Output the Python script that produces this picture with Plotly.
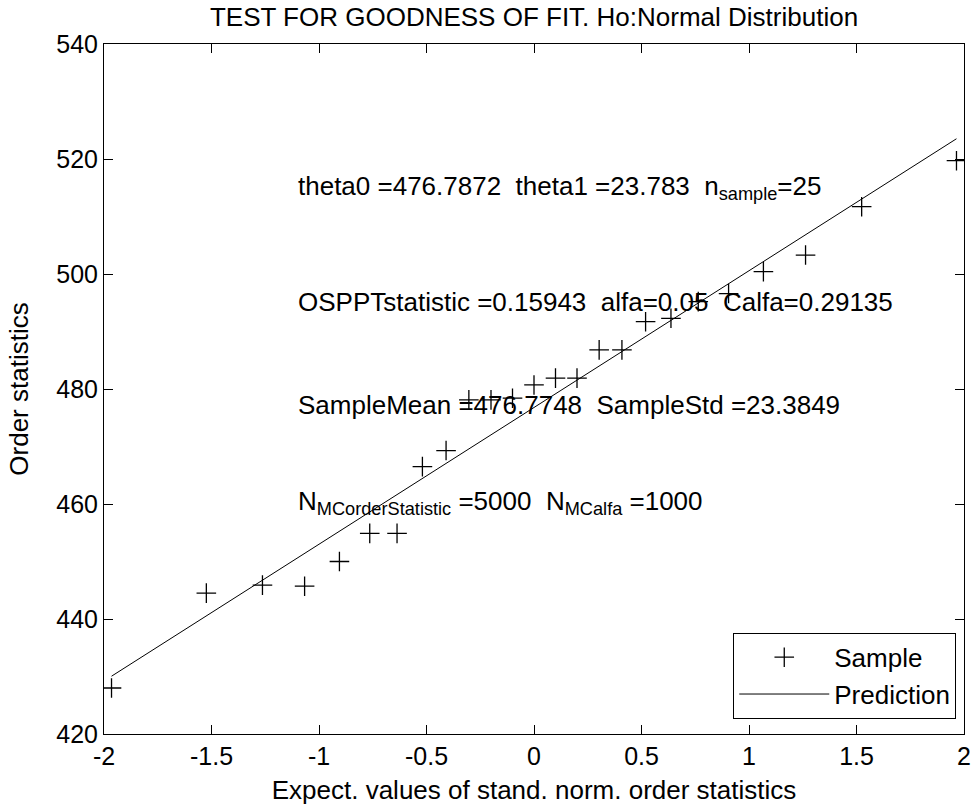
import plotly.graph_objects as go

# Expected values of standard normal order statistics (n = 25)
x_expected = [-1.965, -1.524, -1.263, -1.067, -0.905, -0.764, -0.637, -0.519, -0.409,
              -0.303, -0.200, -0.100, 0.000, 0.100, 0.200, 0.303, 0.409, 0.519,
              0.637, 0.764, 0.905, 1.067, 1.263, 1.524, 1.965]
# Order statistics (sample, sorted)
y_sample = [428.0, 444.5, 445.9, 445.7, 450.0, 454.9, 454.9, 466.5, 469.3,
            478.1, 478.1, 478.4, 480.7, 481.9, 481.9, 486.8, 486.8, 491.7,
            492.3, 495.2, 496.6, 500.4, 503.3, 511.7, 519.7]
# Prediction line endpoints (theta0 + theta1 * x)
x_pred = [-1.965, 1.965]
y_pred = [430.05, 523.52]

x_ticks = [-2, -1.5, -1, -0.5, 0, 0.5, 1, 1.5, 2]
x_ticklabels = ["-2", "-1.5", "-1", "-0.5", "0", "0.5", "1", "1.5", "2"]
y_ticks = [420, 440, 460, 480, 500, 520, 540]
y_ticklabels = ["420", "440", "460", "480", "500", "520", "540"]

text_lines = [
    "theta0 =476.7872&nbsp;&nbsp;theta1 =23.783&nbsp;&nbsp;n<sub>sample</sub>=25",
    "OSPPTstatistic =0.15943&nbsp;&nbsp;alfa=0.05&nbsp;&nbsp;Calfa=0.29135",
    "SampleMean =476.7748&nbsp;&nbsp;SampleStd =23.3849",
    "N<sub>MCorderStatistic</sub> =5000&nbsp;&nbsp;N<sub>MCalfa</sub> =1000",
]
text_y = [515.0, 495.1, 477.2, 460.3]
text_x = -1.107

FONT = "Liberation Sans, Arial, Helvetica, sans-serif"
FS = 26
FT = 25

fig = go.Figure()
fig.add_trace(go.Scatter(
    x=x_expected, y=y_sample, mode="markers", name="Sample",
    marker=dict(symbol="cross-thin-open", size=14, color="black",
                line=dict(color="black", width=1.3)),
))
fig.add_trace(go.Scatter(
    x=x_pred, y=y_pred, mode="lines", name="Prediction",
    line=dict(color="black", width=1),
))

for t, yy in zip(text_lines, text_y):
    fig.add_annotation(x=text_x, y=yy, xref="x", yref="y", text=t, showarrow=False,
                       xanchor="left", yanchor="middle",
                       font=dict(family=FONT, size=FS, color="black"))

axis_common = dict(showline=True, linecolor="black", linewidth=1, mirror="ticks",
                   ticks="inside", ticklen=9, tickcolor="black", tickwidth=1,
                   showgrid=False, zeroline=False, ticklabeloverflow="allow",
                   tickfont=dict(family=FONT, size=FT, color="black"))

fig.update_layout(
    width=975, height=805,
    margin=dict(l=104, r=4, t=44, b=71),
    paper_bgcolor="white", plot_bgcolor="white",
    font=dict(family=FONT, size=FS, color="black"),
    title=dict(text="TEST FOR GOODNESS OF FIT. Ho:Normal Distribution",
               x=0.5, xref="paper", y=0.979, yanchor="middle",
               font=dict(family=FONT, size=FS, color="black")),
    xaxis=dict(range=[-2, 2], tickvals=x_ticks, ticktext=x_ticklabels,
               title=dict(text="Expect. values of stand. norm. order statistics",
                          standoff=12, font=dict(family=FONT, size=FS)),
               **axis_common),
    yaxis=dict(range=[420, 540], tickvals=y_ticks, ticktext=y_ticklabels,
               title=dict(text="Order statistics", standoff=20,
                          font=dict(family=FONT, size=FS)),
               **axis_common),
    legend=dict(x=0.991, y=0.022, xanchor="right", yanchor="bottom",
                bordercolor="black", borderwidth=1, bgcolor="white",
                font=dict(family=FONT, size=FS), itemwidth=90),
    showlegend=True,
)

fig.write_html("out.html")
